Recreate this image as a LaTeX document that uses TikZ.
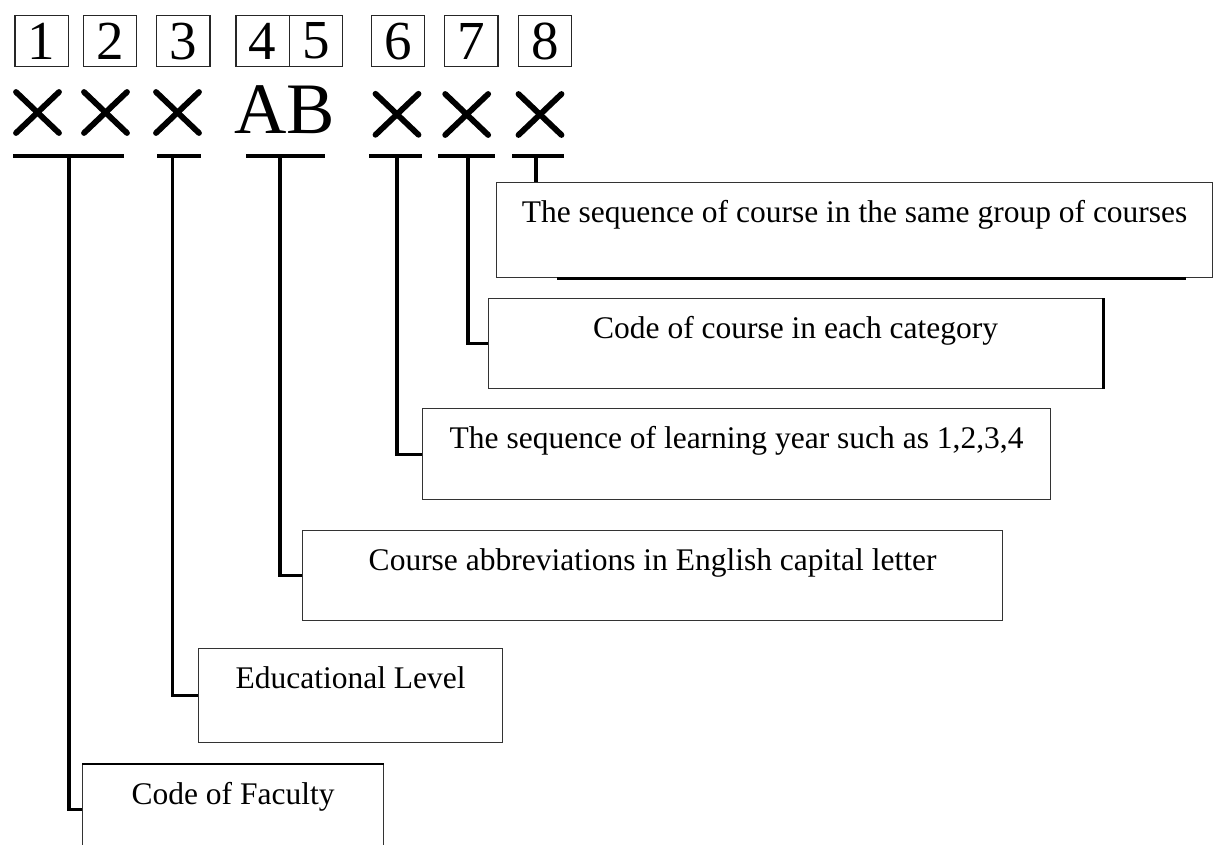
\documentclass[tikz,border=0pt]{standalone}
\usepackage{fontspec}
\setmainfont{Liberation Serif}
\begin{document}
\begin{tikzpicture}[x=1pt,y=-1pt,
  digitbox/.style={draw=black!85, line width=1.3pt, minimum width=53.4pt, minimum height=51pt,
    inner sep=0pt, anchor=north west, font=\fontsize{55}{60}\selectfont},
  infobox/.style={draw=black!80, line width=1.2pt, anchor=north west, inner xsep=0pt,
    inner ysep=0pt, text height=40pt, font=\fontsize{31.5}{36}\selectfont},
  uline/.style={line width=3.8pt},
  conn/.style={line width=3.2pt},
  heavyedge/.style={line width=2.8pt},
  xstroke/.style={line width=5.8pt, line cap=round},
  xmark/.pic={\draw[xstroke] (-21.5,-20.5) -- (21.5,20.5) (-21.5,20.5) -- (21.5,-20.5);},
]
\useasboundingbox (0,0) rectangle (1213,845);
\clip (0,0) rectangle (1213,845);

% digit boxes
\node[digitbox] (d1) at (14.3,15) {1};
\node[digitbox] (d2) at (82.7,15) {2};
\node[digitbox] (d3) at (156,15) {3};
\node[digitbox] (d4) at (235.3,15) {4};
\node[digitbox] (d5) at (288.7,15) {5};
\node[digitbox] (d6) at (370.7,15) {6};
\node[digitbox] (d7) at (444,15) {7};
\node[digitbox] (d8) at (517.7,15) {8};

% code characters
\pic (x1) at (37.5,112.5) {xmark};
\pic (x2) at (105.5,112.5) {xmark};
\pic (x3) at (177.5,112.5) {xmark};
\node[anchor=base west, inner sep=0pt, font=\fontsize{72.5}{80}\selectfont] (ab) at (234,133.3) {AB};
\pic (x6) at (397,114.3) {xmark};
\pic (x7) at (466.7,114.5) {xmark};
\pic (x8) at (540,114.5) {xmark};

% underlines
\draw[uline] (13,156) -- (124,156);
\draw[uline] (157,156) -- (201,156);
\draw[uline] (246,156) -- (325,156);
\draw[uline] (369,156) -- (422,156);
\draw[uline] (438,156) -- (495,156);
\draw[uline] (512,156) -- (564,156);
\coordinate (u1) at (69,156);
\coordinate (u2) at (172.5,156);
\coordinate (u3) at (280,156);
\coordinate (u4) at (397,156);
\coordinate (u5) at (468,156);
\coordinate (u6) at (536,156);

% description boxes
\node[infobox, minimum width=716pt, text depth=55pt] (boxA) at (496,182)
  {The sequence of course in the same group of courses};
\node[infobox, minimum width=614pt, text depth=50pt] (boxB) at (488,298)
  {Code of course in each category};
\node[infobox, minimum width=628pt, text depth=51pt] (boxC) at (422,408)
  {The sequence of learning year such as 1,2,3,4};
\node[infobox, minimum width=700pt, text depth=50pt] (boxD) at (302,530)
  {Course abbreviations in English capital letter};
\node[infobox, minimum width=304pt, text depth=54pt] (boxE) at (198,648)
  {Educational Level};
\node[infobox, minimum width=301pt, text depth=50pt] (boxF) at (82,764)
  {Code of Faculty};

% heavier edges
\draw[heavyedge] ([xshift=61pt]boxA.south west) -- ([xshift=-27pt]boxA.south east);
\draw[heavyedge] (boxB.north east) -- (boxB.south east);
\draw[heavyedge] (boxF.north west) -- (boxF.north east);

% connectors
\draw[conn] (u6) -- (u6 |- boxA.north);
\draw[conn] (u5) |- (boxB.west);
\draw[conn] (u4) |- (boxC.west);
\draw[conn] (u3) |- (boxD.west);
\draw[conn] (u2) |- (boxE.west);
\draw[conn] (u1) |- (boxF.west);
\end{tikzpicture}
\end{document}
